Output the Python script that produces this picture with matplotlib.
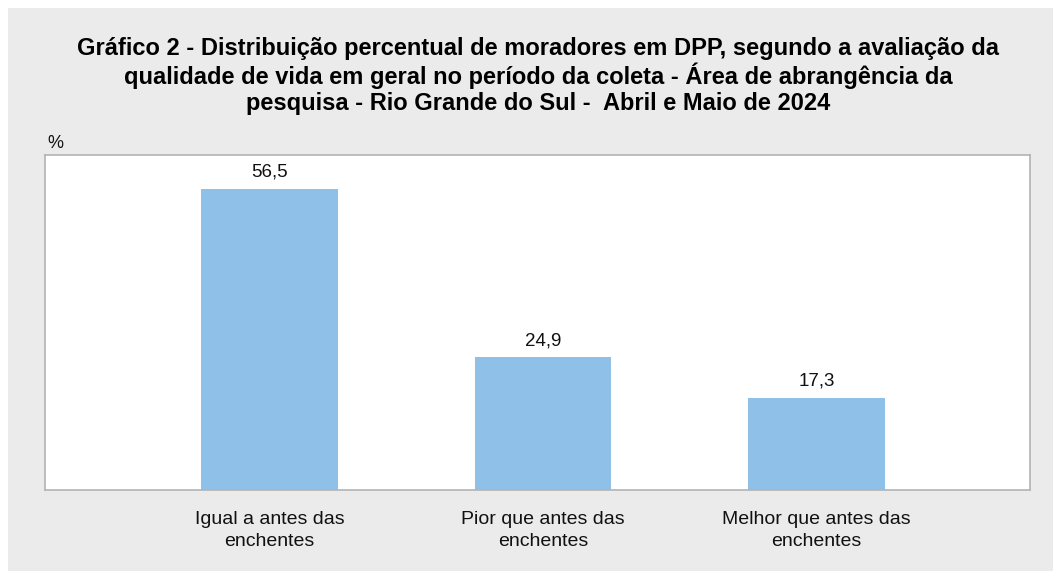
import matplotlib
matplotlib.use("Agg")
import matplotlib.pyplot as plt
from matplotlib.patches import Rectangle

categorias = ["Igual a antes das\nenchentes", "Pior que antes das\nenchentes", "Melhor que antes das\nenchentes"]
valores = [56.5, 24.9, 17.3]
rotulos = ["56,5", "24,9", "17,3"]

titulo = ("Gráfico 2 - Distribuição percentual de moradores em DPP, segundo a avaliação da\n"
          "qualidade de vida em geral no período da coleta - Área de abrangência da\n"
          "pesquisa - Rio Grande do Sul -  Abril e Maio de 2024")

plt.rcParams['font.family'] = ['Liberation Sans', 'DejaVu Sans']

W, H = 1053, 571
fig = plt.figure(figsize=(W / 100, H / 100), dpi=100)
fig.patch.set_facecolor("white")
# fundo cinza do quadro
fig.patches.append(Rectangle((8 / W, 0), 1 - 8 / W, 1 - 8 / H, transform=fig.transFigure,
                             facecolor="#ebebeb", edgecolor="none", zorder=-1))

ax = fig.add_axes([45 / W, 1 - 490 / H, (1030 - 45) / W, (490 - 155) / H])
ax.set_facecolor("white")
x = range(len(valores))
ax.bar(x, valores, width=0.5, color="#8fc0e8")
for xi, v, r in zip(x, valores, rotulos):
    ax.annotate(r, (xi, v), xytext=(0, 6), textcoords="offset points",
                ha="center", va="bottom", fontsize=13.5, color="#111111")

ax.set_xlim(-0.82, 2.78)
ax.set_ylim(0, 62.9)
ax.set_yticks([])
ax.set_xticks(list(x))
ax.set_xticklabels(categorias, fontsize=14, color="#111111", linespacing=1.4)
ax.tick_params(axis="x", length=0, pad=15)
for s in ax.spines.values():
    s.set_color("#b3b3b3")
    s.set_linewidth(1.2)

fig.text(47 / W, 1 - 143 / H, "%", fontsize=13, ha="left", va="center", color="#111111")
fig.text(538 / W, 1 - 76 / H, titulo, fontsize=17, fontweight="bold", ha="center",
         va="center", linespacing=1.12, color="#000000")

fig.savefig("out.png", dpi=100)
